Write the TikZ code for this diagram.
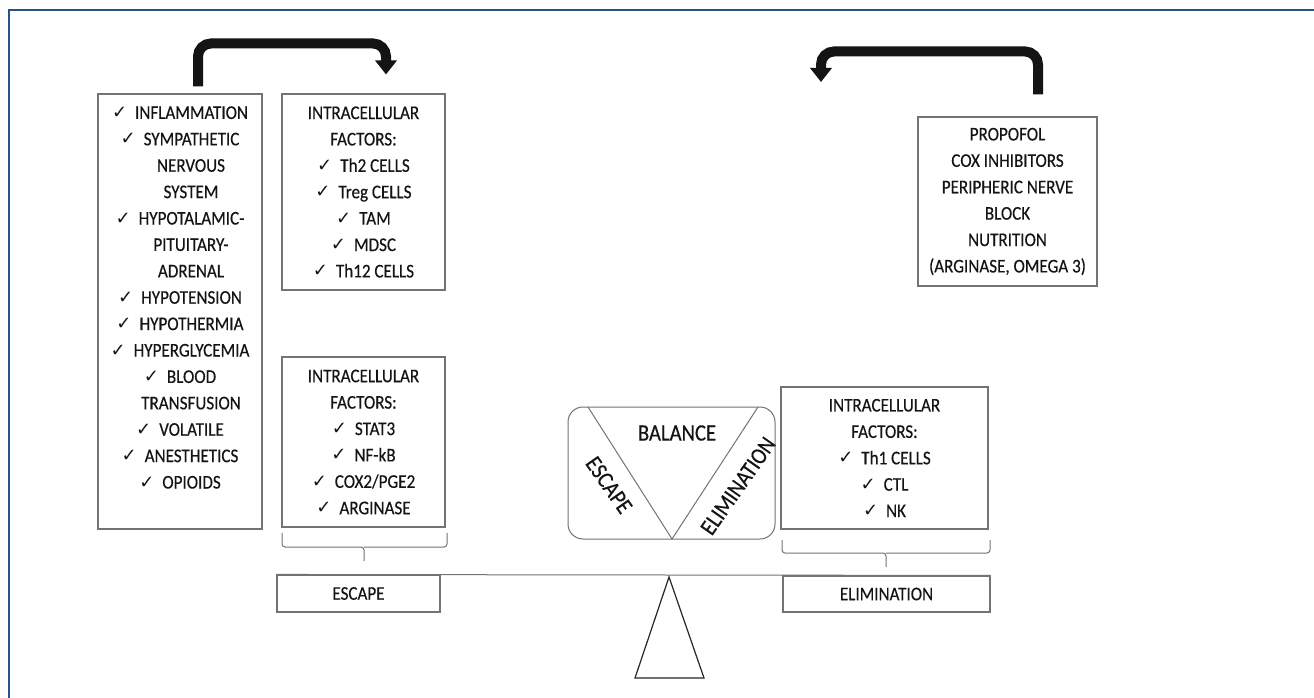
\documentclass[tikz,border=0pt]{standalone}
\usepackage{fontspec}
\setmainfont{Carlito}[FakeStretch=0.88,FakeBold=0.35]
\newfontfamily\djv{DejaVu Sans}
\usetikzlibrary{arrows.meta}
\newcommand\ck{\raisebox{0.5pt}{\djv\fontsize{18}{18}\selectfont ✓}\hspace{8pt}}
\newcommand\ind{\hspace*{22pt}}
\definecolor{frameblue}{RGB}{38,84,135}
\definecolor{boxgray}{RGB}{115,115,115}
\definecolor{txt}{RGB}{20,20,20}
\begin{document}
\begin{tikzpicture}[x=1pt,y=-1pt,
  box/.style={draw=boxgray, line width=1.1pt, inner sep=0pt, align=center, text=txt, font=\fontsize{19.4}{26.4}\selectfont},
  plain/.style={inner sep=0pt, align=center, text=txt, font=\fontsize{19.4}{26.4}\selectfont},
  baltxt/.style={inner sep=0pt, text=txt, font=\fontsize{23.5}{26}\selectfont},
  bigarrow/.style={line width=10pt, rounded corners=13pt, -{Triangle[width=21pt,length=14pt]}, draw=black!92},
  thinline/.style={draw=boxgray, line width=1pt}]
\useasboundingbox (0,0) rectangle (1314,698);
\fill[white] (0,0) rectangle (1314,698);
\draw[frameblue, line width=2pt] (9,698) -- (9,10) -- (1314,10);

% boxes
\node[box, minimum width=164pt, minimum height=435pt] (lbox) at (180,311.5) {};
\node[plain] (ltext) at (180,297.5) {\ck INFLAMMATION\\ \ck SYMPATHETIC\\ \ind NERVOUS\\ \ind SYSTEM\\ \ck HYPOTALAMIC-\\ \ind PITUITARY-\\ \ind ADRENAL\\ \ck HYPOTENSION\\ \ck HYPOTHERMIA\\ \ck HYPERGLYCEMIA\\ \ck BLOOD\\ \ind TRANSFUSION\\ \ck VOLATILE\\ \ck ANESTHETICS\\ \ck OPIOIDS};

\node[box, minimum width=163pt, minimum height=196pt] (tbox) at (363.5,192) {INTRACELLULAR\\ FACTORS:\\ \ck Th2 CELLS\\ \ck Treg CELLS\\ \ck TAM\\ \ck MDSC\\ \ck Th12 CELLS};

\node[box, minimum width=179pt, minimum height=169pt] (rbox) at (1007.5,201.5) {PROPOFOL\\ COX INHIBITORS\\ PERIPHERIC NERVE\\ BLOCK\\ NUTRITION\\ (ARGINASE, OMEGA 3)};

\node[box, minimum width=163pt, minimum height=170pt] (bbox) at (363.5,442) {INTRACELLULAR\\ FACTORS:\\ \ck STAT3\\ \ck NF-kB\\ \ck COX2/PGE2\\ \ck ARGINASE};

\node[box, minimum width=207pt, minimum height=142pt] (ribox) at (884.5,458) {INTRACELLULAR\\ FACTORS:\\ \ck Th1 CELLS\\ \ck CTL\\ \ck NK};

\node[box, minimum width=163pt, minimum height=37pt] (escbox) at (358.5,593.5) {ESCAPE};
\node[box, minimum width=207pt, minimum height=36pt] (elimbox) at (886.5,594) {ELIMINATION};

% balance panel
\node[draw=boxgray, line width=1pt, rounded corners=15pt, minimum width=207pt, minimum height=132pt, inner sep=0pt] (balbox) at (671.5,473) {};
\draw[thinline] (588,407) -- (672,539) -- (758,407);
\node[baltxt] (baltext) at (677,433) {BALANCE};
\node[baltxt, rotate=-55] (esctext) at (609,485) {ESCAPE};
\node[baltxt, rotate=55] (elimtext) at (738,486) {ELIMINATION};

% beam and fulcrum
\draw[thinline] (escbox.north west) -- (elimbox.north east);
\draw[draw=black!85, line width=1.2pt, line join=miter] (669,577) -- (704,678) -- (635,678) -- cycle;

% braces
\draw[thinline, rounded corners=3pt] (282,533) -- (282,547) -- (364,547) -- (364,561);
\draw[thinline, rounded corners=3pt] (447,533) -- (447,547) -- (364,547);
\draw[thinline, rounded corners=3pt] (782,540) -- (782,553) -- (886,553) -- (886,567);
\draw[thinline, rounded corners=3pt] (990,540) -- (990,553) -- (886,553);

% big arrows
\coordinate (tip2) at (821,82);
\draw[bigarrow] ([xshift=18pt,yshift=7pt]lbox.north) -- ++(0,-43) -| ([xshift=22.5pt,yshift=19pt]tbox.north);
\draw[bigarrow] ([xshift=30.5pt,yshift=22pt]rbox.north) -- ++(0,-43) -| (tip2);
\end{tikzpicture}
\end{document}
